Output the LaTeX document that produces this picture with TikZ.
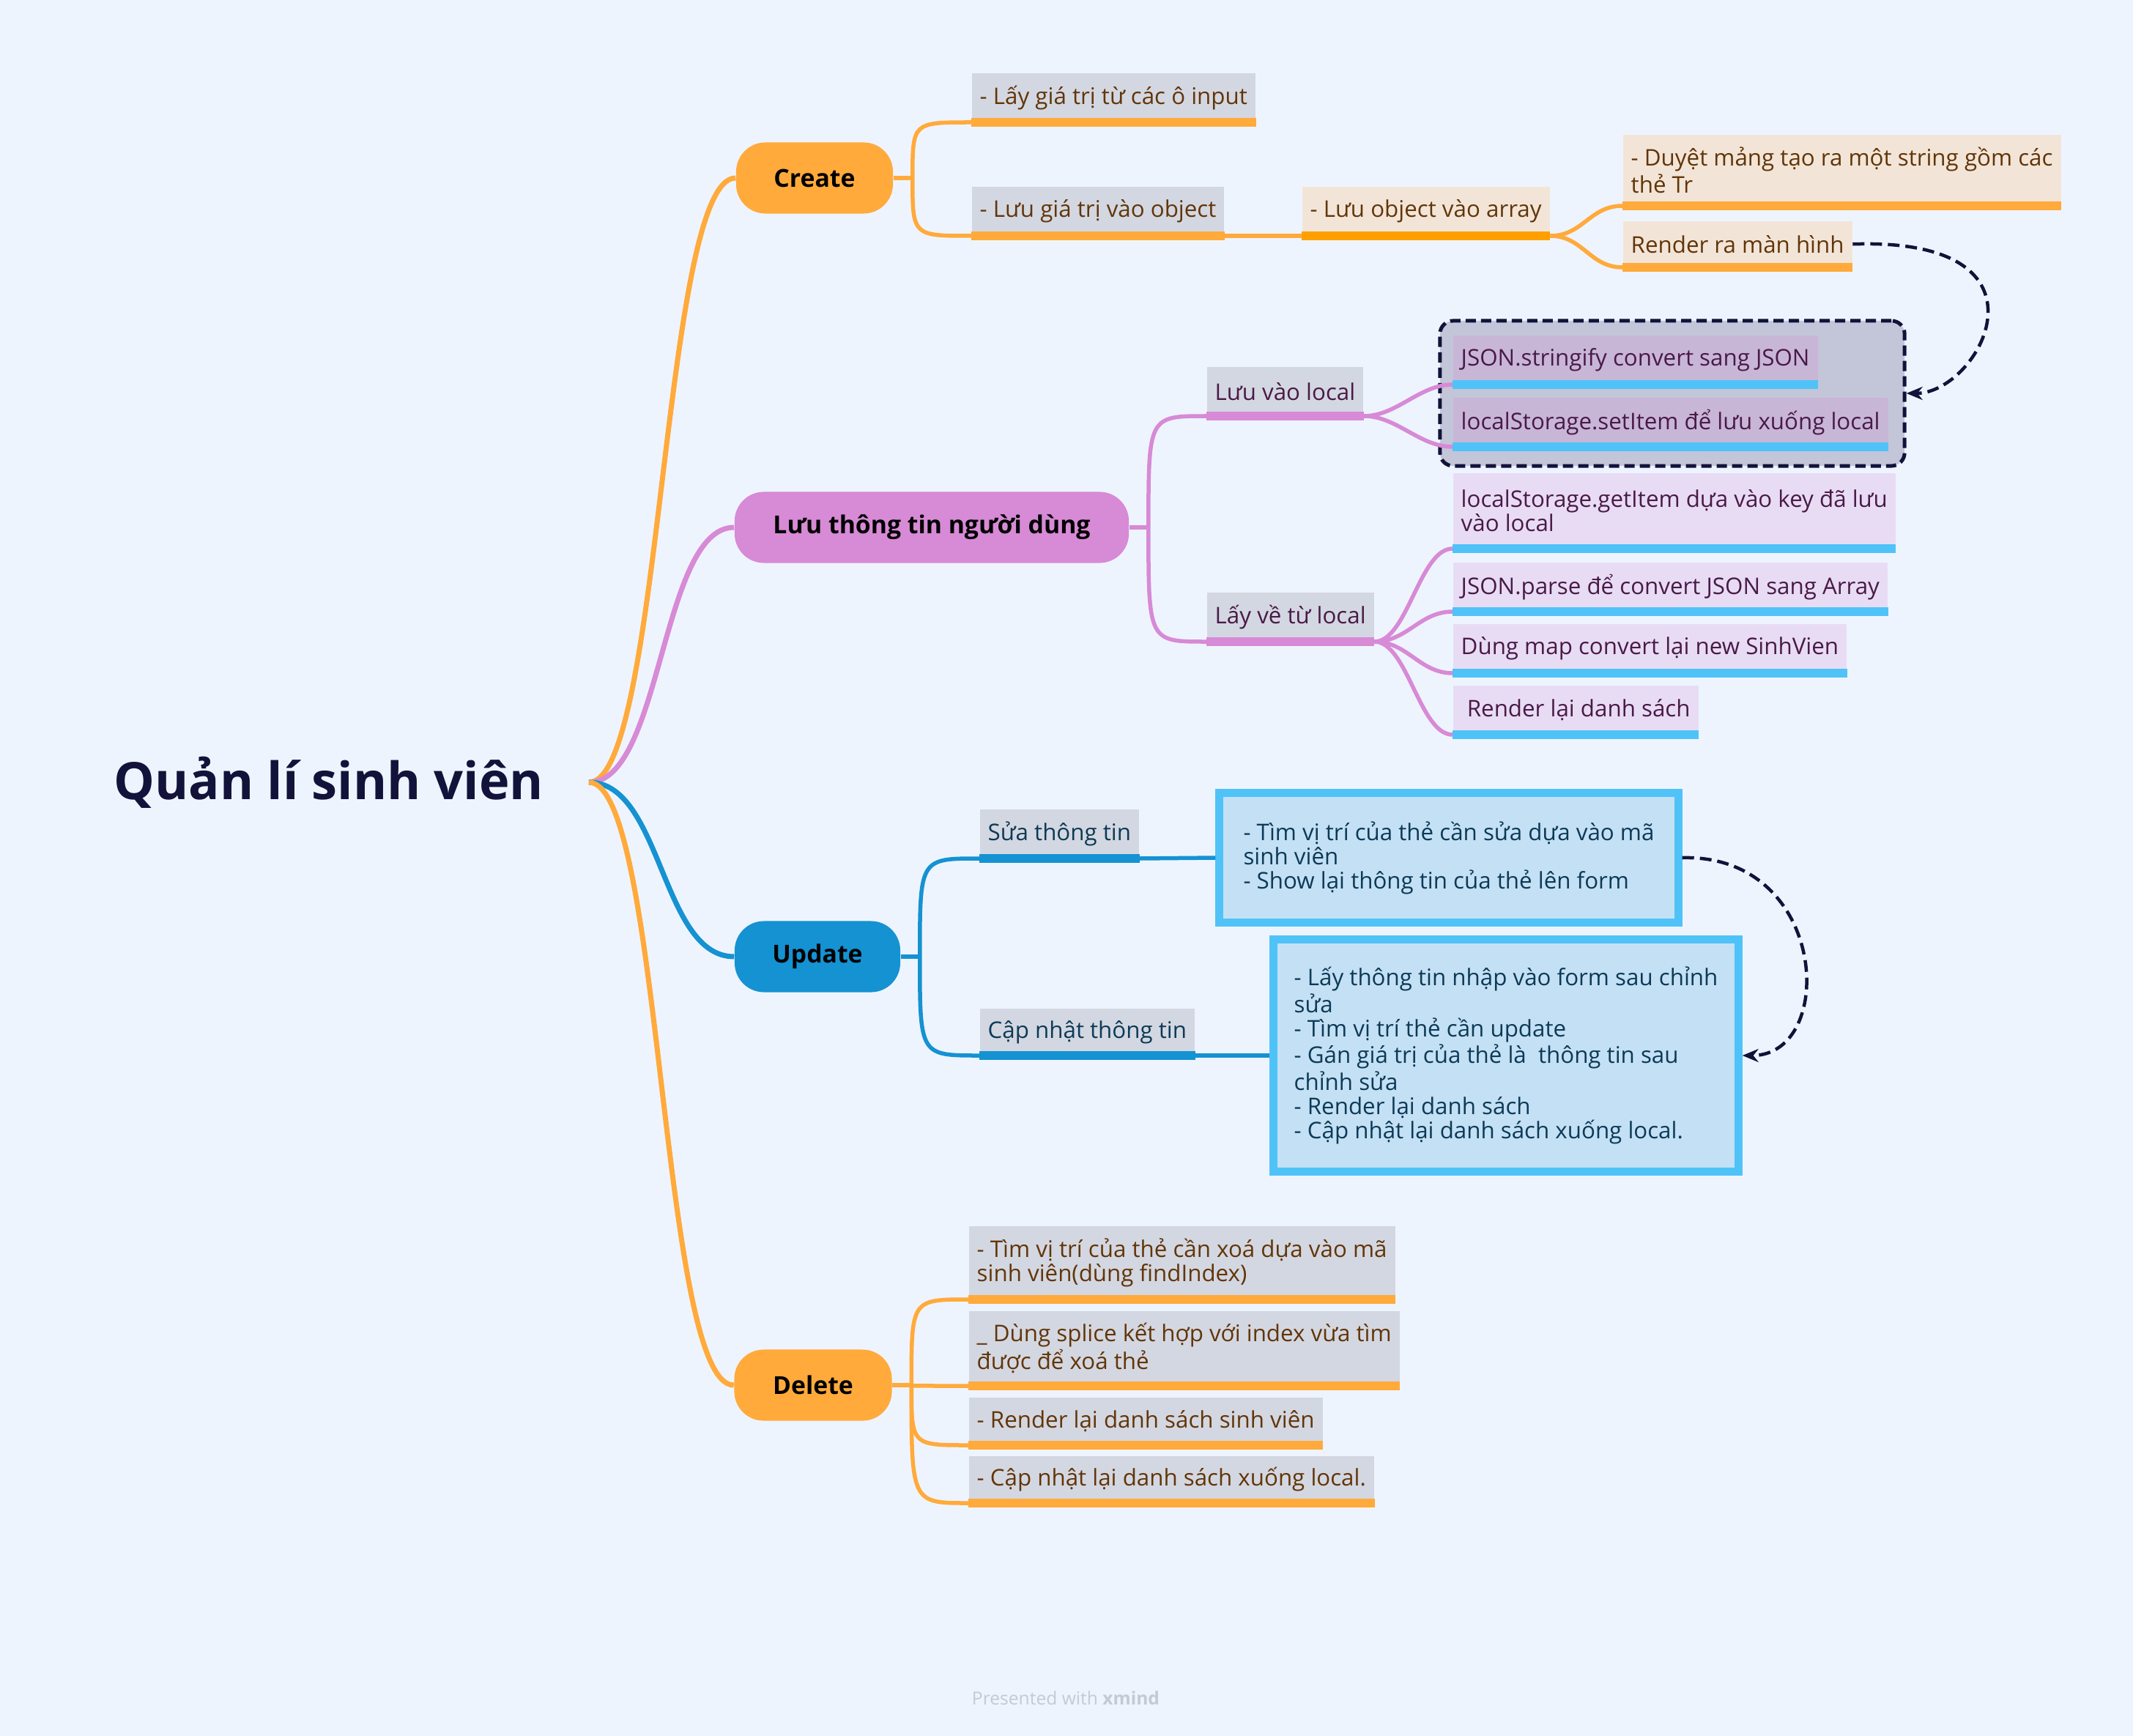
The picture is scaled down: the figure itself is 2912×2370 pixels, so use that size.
\documentclass[tikz,border=0pt]{standalone}
\usepackage{fontspec}
\setmainfont{Open Sans}
\usetikzlibrary{arrows.meta}
\definecolor{bgc}{HTML}{EEF4FE}
\definecolor{tgrey}{HTML}{D3D7E1}
\definecolor{orng}{HTML}{FFAA3B}
\definecolor{dorng}{HTML}{FFA000}
\definecolor{beig}{HTML}{F2E5D8}
\definecolor{pnk}{HTML}{D78AD6}
\definecolor{gfill}{HTML}{C3C5D8}
\definecolor{gitem}{HTML}{C8B6D6}
\definecolor{lav}{HTML}{E8DCF5}
\definecolor{cyn}{HTML}{4FC3F7}
\definecolor{blu}{HTML}{1592D2}
\definecolor{ufill}{HTML}{C4E0F5}
\definecolor{brn}{HTML}{623508}
\definecolor{prp}{HTML}{4A1A47}
\definecolor{tel}{HTML}{0D3A56}
\definecolor{ink}{HTML}{12123A}
\definecolor{ftg}{HTML}{C5C9D6}
\begin{document}
\begin{tikzpicture}[x=0.01cm, y=-0.01cm,
    root/.style={inner xsep=0.61cm, text=ink, font=\bfseries\fontsize{20}{23}\selectfont},
    pill/.style={fill=#1, rounded corners=0.4cm, minimum height=0.97cm, font=\bfseries\fontsize{9.6}{11}\selectfont},
    topic/.style={anchor=south west, inner xsep=0.11cm, inner ysep=0pt, minimum height=0.66cm, align=left, font=\fontsize{8.9}{9.4}\selectfont},
    ctopic/.style={topic, fill=tgrey, text=brn},
    btopic/.style={topic, fill=beig, text=brn},
    ptopic/.style={topic, fill=tgrey, text=prp},
    gtopic/.style={topic, fill=gitem, text=prp},
    ltopic/.style={topic, fill=lav, text=prp},
    utopic/.style={topic, fill=tgrey, text=tel},
    grp/.style={fill=gfill, draw=ink, line width=0.05cm, dash pattern=on 0.14cm off 0.07cm, rounded corners=0.18cm},
    ubox/.style={fill=ufill, draw=cyn, line width=0.11cm, align=left, text=tel, font=\fontsize{8.9}{9.4}\selectfont},
    uline/.style={line width=0.12cm},
    branch/.style={line width=0.07cm},
    conn/.style={line width=0.055cm},
    link/.style={draw=ink, line width=0.045cm, dash pattern=on 0.16cm off 0.08cm, -{Stealth[length=0.22cm,width=0.18cm]}}
  ]

  \fill[bgc] (0,0) rectangle (2912,2370);
  \useasboundingbox (0,0) rectangle (2912,2370);

  \node[root, anchor=east] (root) at (804,1068) {Quản lí sinh viên};

  \node[pill=orng, minimum width=2.14cm] (create) at (1112,243) {Create};
  \node[pill=pnk, minimum width=5.38cm] (store) at (1272,720) {Lưu thông tin người dùng};
  \node[pill=blu, minimum width=2.26cm] (update) at (1116,1306) {Update};
  \node[pill=orng, minimum width=2.15cm] (delete) at (1110,1891) {Delete};

  \node[ctopic] (c1) at (1326,167) {- Lấy giá trị từ các ô input};
  \node[ctopic] (c2) at (1326,322) {- Lưu giá trị vào object};
  \node[btopic] (c21) at (1777,322) {- Lưu object vào array};
  \node[btopic, minimum height=0.96cm] (c211) at (2215,281) {- Duyệt mảng tạo ra một string gồm các\\thẻ Tr};
  \node[btopic, minimum height=0.62cm] (c212) at (2215,365) {Render ra màn hình};

  \node[grp, minimum width=6.34cm, minimum height=1.98cm] (grp) at (2283,537) {};
  \node[ptopic] (lv) at (1647,568) {Lưu vào local};
  \node[ptopic] (lr) at (1647,876) {Lấy về từ local};
  \node[gtopic] (g1) at (1983,525) {JSON.stringify convert sang JSON};
  \node[gtopic] (g2) at (1983,610) {localStorage.setItem để lưu xuống local};
  \node[ltopic, minimum height=1.02cm] (l1) at (1983,749) {localStorage.getItem dựa vào key đã lưu\\vào local};
  \node[ltopic] (l2) at (1983,835) {JSON.parse để convert JSON sang Array};
  \node[ltopic] (l3) at (1983,919) {Dùng map convert lại new SinhVien};
  \node[ltopic] (l4) at (1983,1003) {\ Render lại danh sách};

  \node[utopic] (su) at (1337,1172) {Sửa thông tin};
  \node[utopic, minimum height=0.63cm] (cn) at (1337,1441) {Cập nhật thông tin};
  \node[ubox, minimum width=6.26cm, minimum height=1.77cm] (u1b) at (1978,1171) {- Tìm vị trí của thẻ cần sửa dựa vào mã\\sinh viên\\- Show lại thông tin của thẻ lên form};
  \node[ubox, minimum width=6.34cm, minimum height=3.17cm] (u2b) at (2056,1441) {- Lấy thông tin nhập vào form sau chỉnh\\sửa\\- Tìm vị trí thẻ cần update\\- Gán giá trị của thẻ là \ thông tin sau\\chỉnh sửa\\- Render lại danh sách\\- Cập nhật lại danh sách xuống local.};

  \node[ctopic, minimum height=0.99cm] (d1) at (1322,1774) {- Tìm vị trí của thẻ cần xoá dựa vào mã\\sinh viên(dùng findIndex)};
  \node[ctopic, minimum height=1.01cm] (d2) at (1322,1892) {\_ Dùng splice kết hợp với index vừa tìm\\được để xoá thẻ};
  \node[ctopic, minimum height=0.64cm] (d3) at (1322,1973) {- Render lại danh sách sinh viên};
  \node[ctopic, minimum height=0.63cm] (d4) at (1322,2052) {- Cập nhật lại danh sách xuống local.};

  \foreach \n/\c in {c1/orng, c2/orng, c21/dorng, c211/orng, c212/orng, lv/pnk, lr/pnk, g1/cyn, g2/cyn, l1/cyn, l2/cyn, l3/cyn, l4/cyn, su/blu, cn/blu, d1/orng, d2/orng, d3/orng, d4/orng}
    \draw[uline, \c] (\n.south west) -- (\n.south east);

  \draw[branch, orng] (root.east) .. controls +(100,0) and +(-100,0) .. (create.west);
  \draw[branch, pnk] (root.east) .. controls +(100,0) and +(-100,0) .. (store.west);
  \draw[branch, blu] (root.east) .. controls +(100,0) and +(-100,0) .. (update.west);
  \draw[branch, orng] (root.east) .. controls +(100,0) and +(-100,0) .. (delete.west);

  \draw[conn, orng] (create.east) -- ++(26,0) coordinate (jc);
  \foreach \n in {c1, c2}
    \draw[conn, orng] (jc) .. controls (jc |- \n.south west) .. (\n.south west);
  \draw[conn, orng] (c2.south east) -- (c21.south west);
  \foreach \n in {c211, c212}
    \draw[conn, orng] (c21.south east) .. controls +(45,0) and +(-45,0) .. (\n.south west);

  \draw[conn, pnk] (store.east) -- ++(26,0) coordinate (js);
  \foreach \n in {lv, lr}
    \draw[conn, pnk] (js) .. controls (js |- \n.south west) .. (\n.south west);
  \foreach \n in {g1, g2}
    \draw[conn, pnk] (lv.south east) .. controls +(45,0) and +(-45,0) .. (\n.south west);
  \foreach \n in {l1, l2, l3, l4}
    \draw[conn, pnk] (lr.south east) .. controls +(45,0) and +(-45,0) .. (\n.south west);

  \draw[conn, blu] (update.east) -- ++(26,0) coordinate (ju);
  \foreach \n in {su, cn}
    \draw[conn, blu] (ju) .. controls (ju |- \n.south west) .. (\n.south west);
  \draw[conn, blu] (su.south east) -- (u1b.west);
  \draw[conn, blu] (cn.south east) -- (u2b.west);

  \draw[conn, orng] (delete.east) -- ++(26,0) coordinate (jd);
  \foreach \n in {d1, d2, d3, d4}
    \draw[conn, orng] (jd) .. controls (jd |- \n.south west) .. (\n.south west);

  \draw[link] (c212.east) .. controls +(290,-10) and +(100,0) .. (grp.east);
  \draw[link] (u1b.east) .. controls +(200,-5) and +(130,0) .. (u2b.east);

  \node[text=ftg, font=\fontsize{7}{8}\selectfont] (credit) at (1455,2318) {Presented with \textbf{xmind}};

\end{tikzpicture}
\end{document}
